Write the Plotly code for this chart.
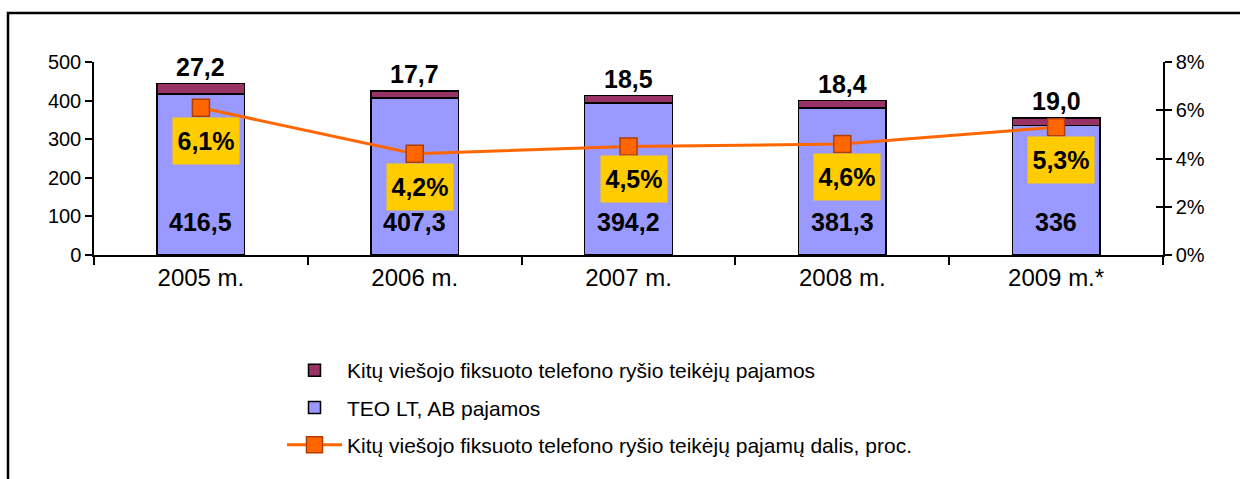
import plotly.graph_objects as go

categories = ["2005 m.", "2006 m.", "2007 m.", "2008 m.", "2009 m.*"]
teo_values = [416.5, 407.3, 394.2, 381.3, 336]
other_values = [27.2, 17.7, 18.5, 18.4, 19.0]
share_pct = [6.1, 4.2, 4.5, 4.6, 5.3]

name_other = "Kitų viešojo fiksuoto telefono ryšio teikėjų pajamos"
name_teo = "TEO LT, AB pajamos"
name_share = "Kitų viešojo fiksuoto telefono ryšio teikėjų pajamų dalis, proc."

FONT = "Arial, Liberation Sans, sans-serif"

def fmt(v, dec=None):
    s = f"{v:.{dec}f}" if dec is not None else f"{v:g}"
    return s.replace(".", ",")

W, H = 1240, 500
L, R, T = 94, 77, 62
B = H - 255
pw, ph = W - L - R, H - T - B

def px_x(p):
    return (p - L) / pw

def px_y(p):
    return (H - B - p) / ph

fig = go.Figure()
fig.add_trace(go.Bar(x=categories, y=teo_values, name=name_teo,
                     marker=dict(color="#9999FF", line=dict(color="black", width=1.5)),
                     width=0.41, legendrank=2, legendgroup="b"))
fig.add_trace(go.Bar(x=categories, y=other_values, name=name_other,
                     marker=dict(color="#993366", line=dict(color="black", width=1.5)),
                     width=0.41, legendrank=1, legendgroup="a"))
fig.add_trace(go.Scatter(x=categories, y=share_pct, name=name_share, yaxis="y2",
                         mode="lines+markers",
                         line=dict(color="#FF6600", width=3),
                         marker=dict(symbol="square", size=17, color="#FF6600",
                                     line=dict(color="#B33C00", width=1.5)),
                         legendrank=3, legendgroup="c"))

annotations = []
for c, t, o, p in zip(categories, teo_values, other_values, share_pct):
    annotations.append(dict(x=c, y=t + o, xref="x", yref="y", text=f"<b>{fmt(o, 1)}</b>",
                            showarrow=False, yanchor="bottom", yshift=1,
                            font=dict(family=FONT, size=25, color="black")))
    annotations.append(dict(x=c, y=0, xref="x", yref="y", text=f"<b>{fmt(t)}</b>",
                            showarrow=False, yanchor="middle", yshift=33,
                            font=dict(family=FONT, size=25, color="black")))
    annotations.append(dict(x=c, y=p, xref="x", yref="y2", text=f"<b>{fmt(p, 1)}%</b>",
                            showarrow=False, yanchor="middle", yshift=-33, xshift=5,
                            bgcolor="#FFCC00", width=62, height=42, borderpad=2,
                            font=dict(family=FONT, size=25, color="black")))

fig.update_layout(
    width=W, height=H,
    margin=dict(l=L, r=R, t=T, b=B, pad=0),
    paper_bgcolor="white", plot_bgcolor="white",
    barmode="stack", bargap=0.59,
    font=dict(family=FONT, color="black"),
    showlegend=True,
    legend=dict(x=px_x(282), y=px_y(350), xanchor="left", yanchor="top",
                orientation="v", traceorder="grouped", tracegroupgap=7,
                itemwidth=55,
                font=dict(family=FONT, size=21, color="black"),
                bgcolor="rgba(0,0,0,0)"),
    xaxis=dict(showline=True, linecolor="black", linewidth=1.5,
               ticks="outside", tickson="boundaries", ticklen=8, tickcolor="black",
               tickwidth=1.5, tickfont=dict(family=FONT, size=24, color="black"),
               showgrid=False, zeroline=False),
    yaxis=dict(range=[0, 500], dtick=100, showline=True, linecolor="black", linewidth=1.5,
               ticks="outside", ticklen=7, tickcolor="black", tickwidth=1.5,
               tickfont=dict(family=FONT, size=20, color="black"),
               showgrid=False, zeroline=False),
    yaxis2=dict(range=[0, 8], dtick=2, ticksuffix="%", overlaying="y", side="right",
                showline=True, linecolor="black", linewidth=1.5,
                ticks="outside", ticklen=7, tickcolor="black", tickwidth=1.5,
                tickfont=dict(family=FONT, size=20, color="black"),
                showgrid=False, zeroline=False),
    yaxis3=dict(range=[0, 8], dtick=2, overlaying="y", side="right", anchor="x",
                showline=False, ticks="inside", ticklen=7, tickcolor="black", tickwidth=1.5,
                showticklabels=False, showgrid=False, zeroline=False),
    annotations=annotations,
    shapes=[dict(type="rect", xref="paper", yref="paper",
                 x0=px_x(8), x1=px_x(1260), y0=px_y(520), y1=px_y(13),
                 line=dict(color="black", width=2.5), fillcolor="rgba(0,0,0,0)",
                 layer="below")],
)

fig.add_trace(go.Scatter(x=categories, y=share_pct, yaxis="y3", mode="markers",
                         marker=dict(opacity=0), showlegend=False, hoverinfo="skip"))

fig.write_html("out.html", config={"displayModeBar": False},
               post_script="document.body.style.margin='0';document.body.style.overflow='hidden';")
